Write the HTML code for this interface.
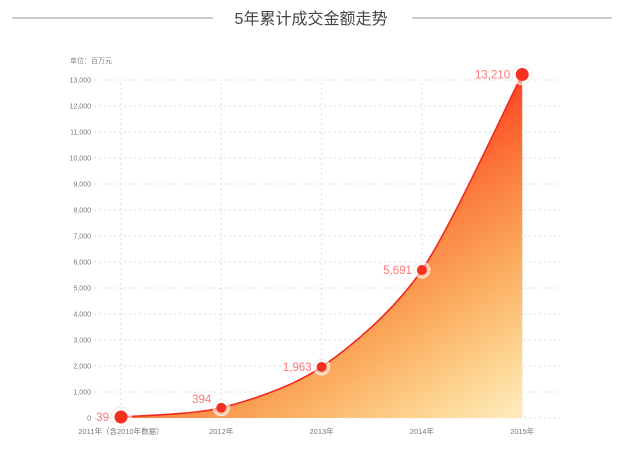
<!DOCTYPE html>
<html><head><meta charset="utf-8"><style>
body{margin:0;background:#fff;width:622px;height:450px;overflow:hidden;font-family:"Liberation Sans","Noto Sans CJK SC",sans-serif}
</style></head><body>
<svg id="c" width="622" height="450">
<defs>
<linearGradient id="g" gradientUnits="userSpaceOnUse" x1="380" y1="150" x2="560" y2="430">
<stop offset="0" stop-color="#ff3a1e"/>
<stop offset="0.25" stop-color="#fb7a3a"/>
<stop offset="0.5" stop-color="#fbac5e"/>
<stop offset="0.75" stop-color="#fdd795"/>
<stop offset="1" stop-color="#fff8dc"/>
</linearGradient>
</defs>
<line x1="12" y1="18" x2="213" y2="18" stroke="#999" stroke-width="1"/>
<line x1="412" y1="18" x2="612" y2="18" stroke="#999" stroke-width="1"/>
<text x="311" y="24" text-anchor="middle" font-size="16" fill="#444">5年累计成交金额走势</text>
<text x="70" y="63" font-size="7" fill="#888">单位：百万元</text>
<g id="grid"></g><g id="area"></g><g id="pts"></g>
</svg>
<script>
const categories=["2011年（含2010年数据）","2012年","2013年","2014年","2015年"];
const values=[39,394,1963,5691,13210];
const labels=["39","394","1,963","5,691","13,210"];
const yTicks=[0,1000,2000,3000,4000,5000,6000,7000,8000,9000,10000,11000,12000,13000];
const NS="http://www.w3.org/2000/svg";
function X(i){return 121+i*100.3;}
function Y(v){return 418-v*0.026;}
function mk(t,a,p){const e=document.createElementNS(NS,t);for(const k in a)e.setAttribute(k,a[k]);p.appendChild(e);return e;}
const grid=document.getElementById('grid');
yTicks.forEach(v=>{
 const l=mk('line',{x1:94,x2:560,y1:Y(v),y2:Y(v),stroke:'#ddd','stroke-dasharray':'2,3'},grid);
 
 
 const t=mk('text',{x:91,y:Y(v)+2.5,'text-anchor':'end','font-size':7,fill:'#777'},grid);
 t.textContent=v.toLocaleString('en-US');
 
 
});
categories.forEach((c,i)=>{
 const l=mk('line',{x1:X(i),x2:X(i),y1:83,y2:418,stroke:'#ddd','stroke-dasharray':'2,3'},grid);
 
 
 const t=mk('text',{x:X(i),y:434,'text-anchor':'middle','font-size':7.5,fill:'#777'},grid);
 t.textContent=c;
 
 
});
const P=values.map((v,i)=>[X(i),Y(v)]);
let d=`M${P[0][0]},${P[0][1]}`;
for(let i=0;i<P.length-1;i++){
 const p0=P[Math.max(0,i-1)],p1=P[i],p2=P[i+1],p3=P[Math.min(P.length-1,i+2)];
 let c1y=p1[1]+(p2[1]-p0[1])/7, c2y=p2[1]-(p3[1]-p1[1])/7;
 c1y=Math.min(c1y,Math.max(p1[1],p2[1]));c2y=Math.max(Math.min(c2y,Math.max(p1[1],p2[1])),Math.min(p1[1],p2[1]));
 d+=` C${p1[0]+(p2[0]-p0[0])/7},${c1y} ${p2[0]-(p3[0]-p1[0])/7},${c2y} ${p2[0]},${p2[1]}`;
}
const area=document.getElementById('area');
const a=mk('path',{d:d+` L${P[4][0]},418 L${P[0][0]},418 Z`,fill:'url(#g)'},area);


const ln=mk('path',{d:d,fill:'none',stroke:'#f0281e','stroke-width':1.6},area);


const pts=document.getElementById('pts');
P.forEach((p,i)=>{
 const big=i==0||i==4;
 const h=mk('circle',{cx:p[0],cy:p[1],r:big?10:8,fill:'#fff','fill-opacity':0.5,stroke:'#eee'},pts);
 
 
 const c=mk('circle',{cx:p[0],cy:p[1],r:big?6.5:5,fill:'#f5301e'},pts);
 
 
 const t=mk('text',{x:p[0]-(big?12:10),y:p[1]+(i==1?-5:4),'text-anchor':'end','font-size':11.5,fill:'#f77'},pts);
 t.textContent=labels[i];
 
 
});
</script>
</body></html>
